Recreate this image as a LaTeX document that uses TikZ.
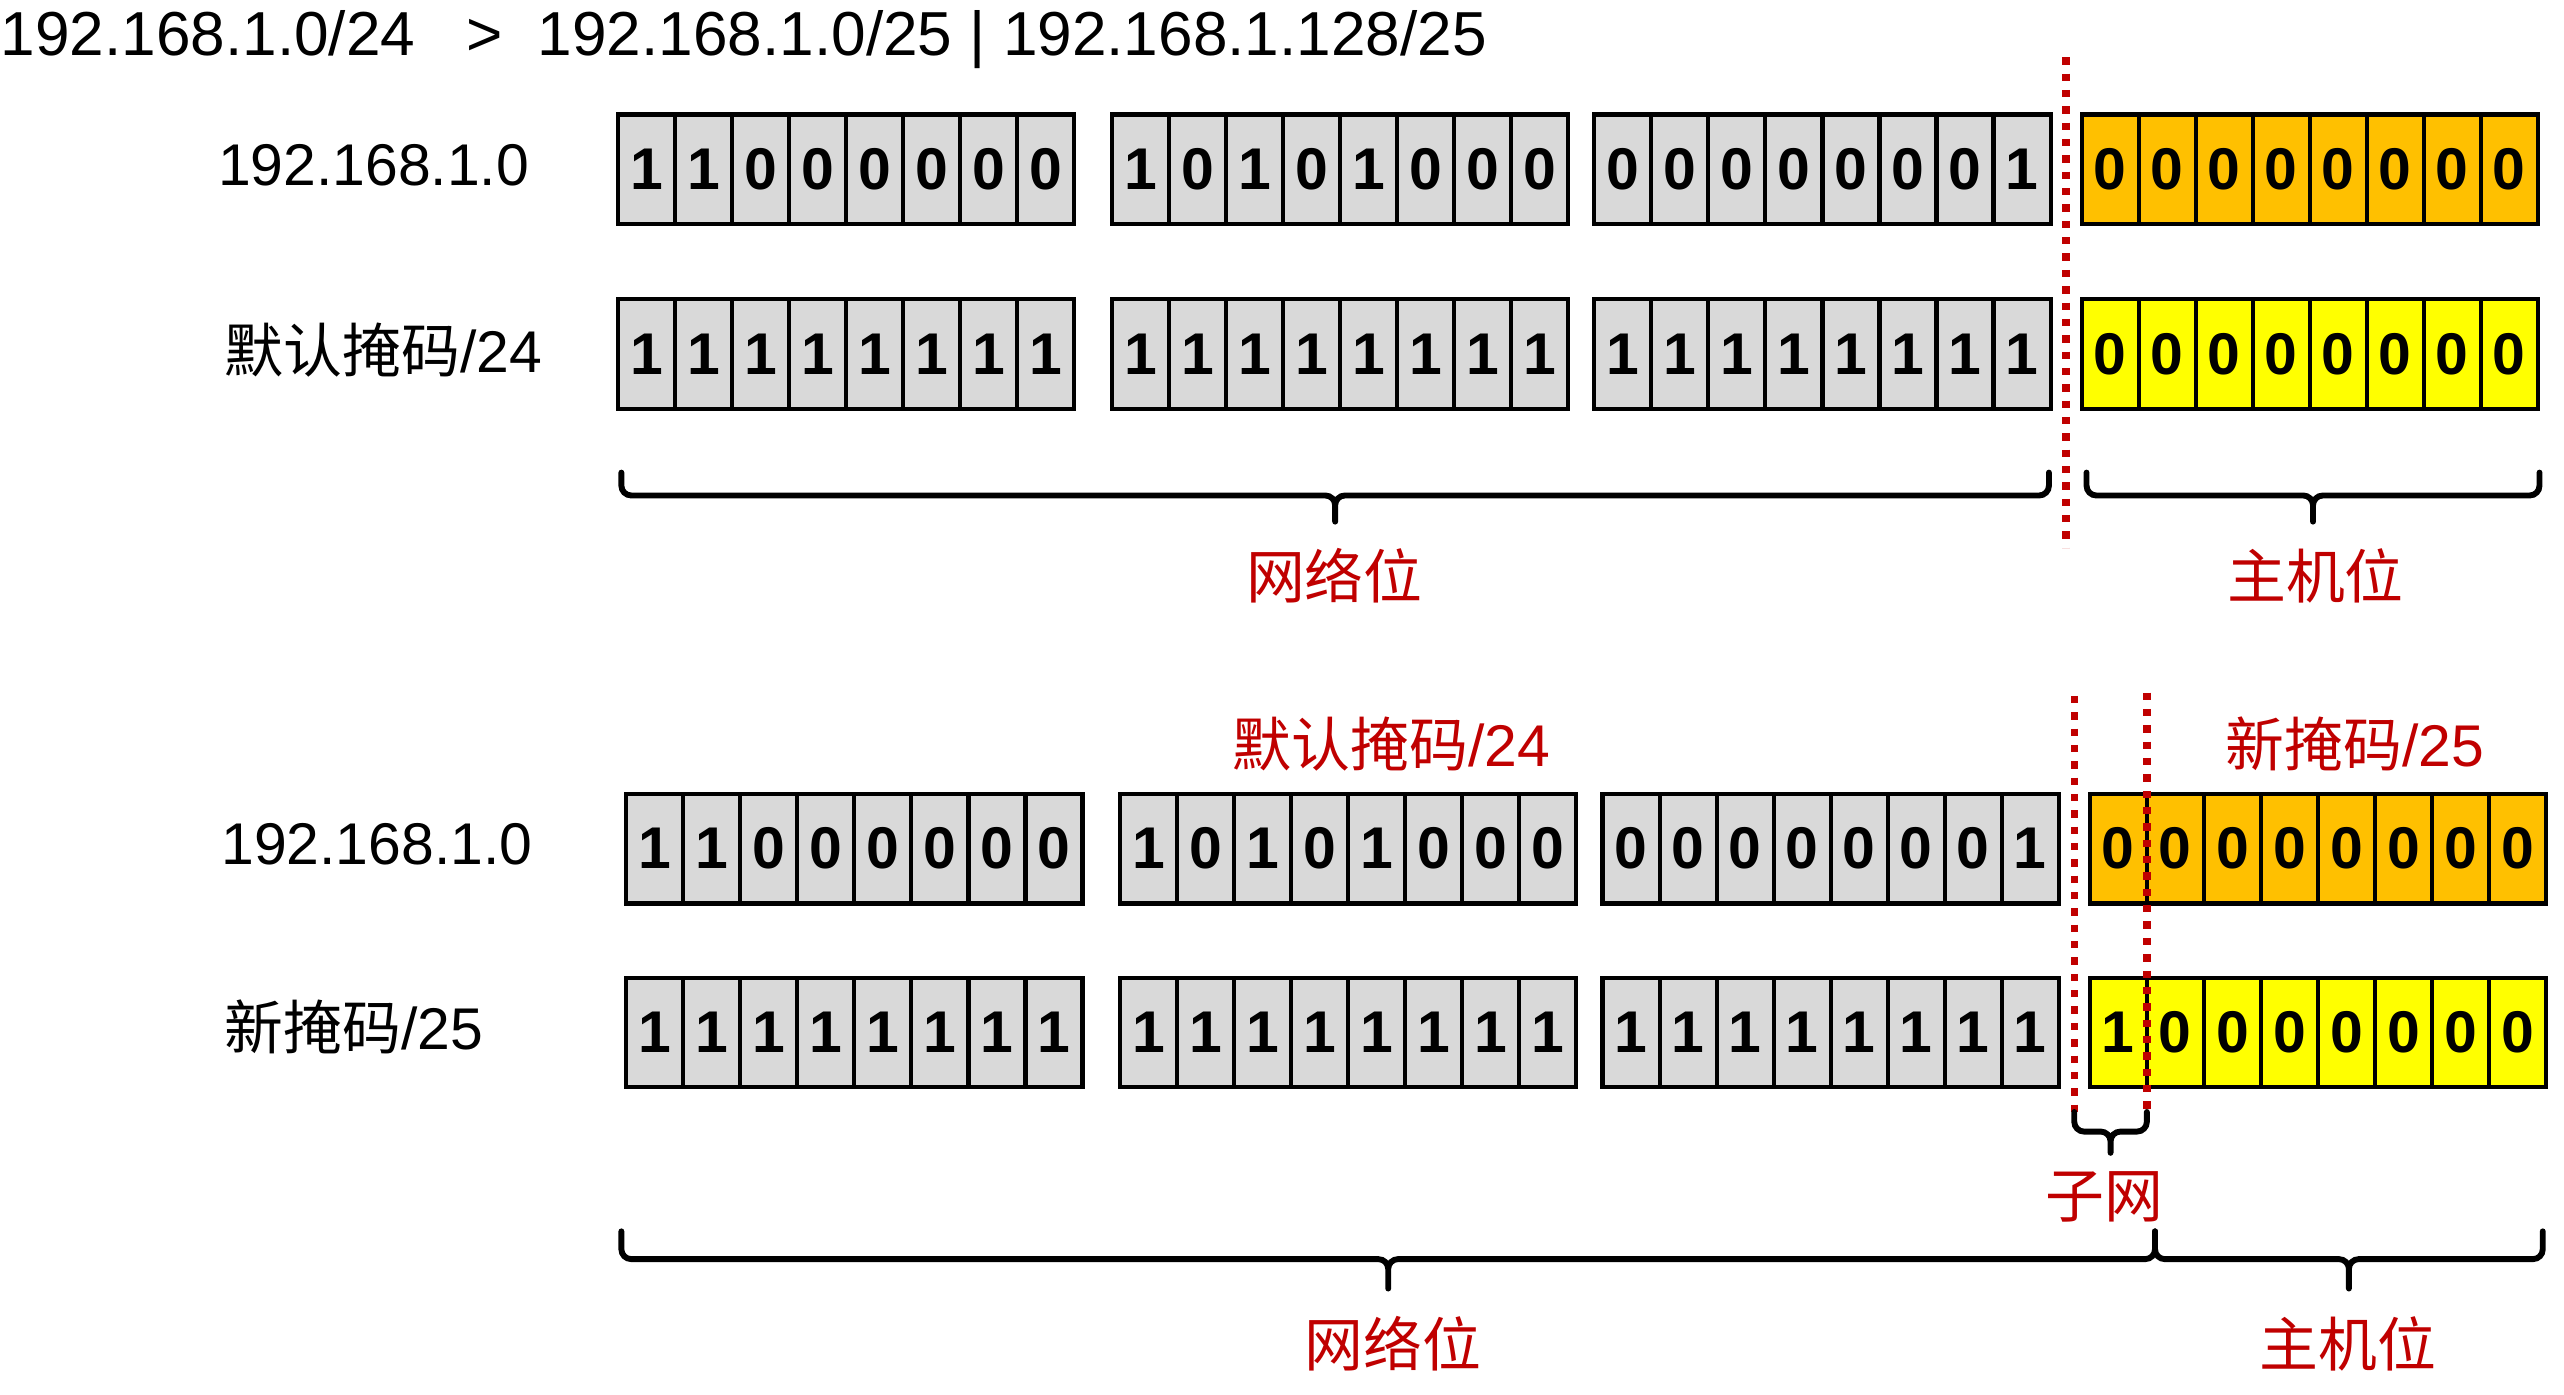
\documentclass[tikz,border=0pt]{standalone}
\usepackage{fontspec}
\setmainfont{Liberation Sans}
\newfontfamily\cjk{Noto Sans CJK SC}
\usetikzlibrary{positioning, calc}
\definecolor{bitgray}{RGB}{217,217,217}
\definecolor{hostorange}{RGB}{255,192,0}
\definecolor{hostyellow}{RGB}{255,255,0}
\definecolor{cutred}{RGB}{192,0,0}

\begin{document}
\begin{tikzpicture}[
      x=0.5pt, y=-0.5pt,
      bit/.style={rectangle, draw, line width=1.25pt, minimum width=17.44pt,
        minimum height=33.5pt, inner sep=0pt, outer sep=0pt,
        font=\fontsize{18}{20}\selectfont\bfseries},
      rowlabel/.style={anchor=west, inner sep=0pt, font=\fontsize{18}{20}\selectfont},
      redlabel/.style={inner sep=0pt, text=cutred, font=\fontsize{18}{20}\selectfont},
      cutline/.style={cutred, line width=2.25pt, dash pattern=on 2.25pt off 2.75pt},
      bracket/.style 2 args={line width=1.8pt, line cap=round, rounded corners=3pt,
        to path={let \p1=(\tikztostart), \p2=(\tikztotarget) in
          -- (\x1,\y1-#1) -- ({(\x1+\x2)/2},\y1-#1) -- ({(\x1+\x2)/2},\y1-#1-#2)
          ({(\x1+\x2)/2},\y1-#1-#2) -- ({(\x1+\x2)/2},\y1-#1) -- (\x2,\y1-#1) -- (\x2,\y2)}}
    ]
      \useasboundingbox (0,0) rectangle (1568,853);
      \fill[white] (0,0) rectangle (1568,853);

      % Title
      \node[rowlabel, font=\fontsize{19}{21}\selectfont] (title) at (0,24)
        {192.168.1.0/24\ \ \ >\ \ 192.168.1.0/25 | 192.168.1.128/25};

      % Address and /24 mask
      \foreach \b [count=\i] in {1,1,0,0,0,0,0,0,1,0,1,0,1,0,0,0,0,0,0,0,0,0,0,1,0,0,0,0,0,0,0,0}{
        \pgfmathtruncatemacro\k{(\i-1)/8}
        \pgfmathsetmacro\bx{{0,302,597,895}[\k]}
        \ifnum\k=3 \def\fc{hostorange}\else\def\fc{bitgray}\fi
        \node[bit, fill=\fc] (ipA-\i) at ({378+\bx+(\i-8*\k-0.5)*34.875}, 103.5) {\b};
      }
      \foreach \b [count=\i] in {1,1,1,1,1,1,1,1,1,1,1,1,1,1,1,1,1,1,1,1,1,1,1,1,0,0,0,0,0,0,0,0}{
        \pgfmathtruncatemacro\k{(\i-1)/8}
        \pgfmathsetmacro\bx{{0,302,597,895}[\k]}
        \ifnum\k=3 \def\fc{hostyellow}\else\def\fc{bitgray}\fi
        \node[bit, fill=\fc] (mA-\i) at ({378+\bx+(\i-8*\k-0.5)*34.875}, 216.5) {\b};
      }
      \node[rowlabel] (ipAtxt) at (133,101) {192.168.1.0};
      \node[rowlabel] (mAtxt) at (137,214) {{\cjk 默认掩码}/24};

      % Split line and brackets
      \coordinate (cutAtop) at ($(ipA-24.north east)!.5!(ipA-25.north west)+(0,-35)$);
      \coordinate (cutAbot) at ($(mA-24.south east)!.5!(mA-25.south west)+(0,85)$);
      \draw[cutline] (cutAtop) -- (cutAbot);
      \coordinate (netAl) at ($(mA-1.south west)+(2,39)$);
      \coordinate (netAr) at ($(mA-24.south east)+(-1,39)$);
      \coordinate (hostAl) at ($(mA-25.south west)+(3,39)$);
      \coordinate (hostAr) at ($(mA-32.south east)+(1,39)$);
      \draw[bracket={7pt}{8pt}] (netAl) to (netAr);
      \draw[bracket={7pt}{8pt}] (hostAl) to (hostAr);
      \node[redlabel] (netAtxt) at (816,352) {\cjk 网络位};
      \node[redlabel] (hostAtxt) at (1416,352) {\cjk 主机位};

      % Address and /25 mask
      \foreach \b [count=\i] in {1,1,0,0,0,0,0,0,1,0,1,0,1,0,0,0,0,0,0,0,0,0,0,1,0,0,0,0,0,0,0,0}{
        \pgfmathtruncatemacro\k{(\i-1)/8}
        \pgfmathsetmacro\bx{{0,302,597,895}[\k]}
        \ifnum\k=3 \def\fc{hostorange}\else\def\fc{bitgray}\fi
        \node[bit, fill=\fc] (ipB-\i) at ({383+\bx+(\i-8*\k-0.5)*34.875}, 519) {\b};
      }
      \foreach \b [count=\i] in {1,1,1,1,1,1,1,1,1,1,1,1,1,1,1,1,1,1,1,1,1,1,1,1,1,0,0,0,0,0,0,0}{
        \pgfmathtruncatemacro\k{(\i-1)/8}
        \pgfmathsetmacro\bx{{0,302,597,895}[\k]}
        \ifnum\k=3 \def\fc{hostyellow}\else\def\fc{bitgray}\fi
        \node[bit, fill=\fc] (mB-\i) at ({383+\bx+(\i-8*\k-0.5)*34.875}, 631.5) {\b};
      }
      \node[rowlabel] (ipBtxt) at (135,516) {192.168.1.0};
      \node[rowlabel] (mBtxt) at (137,628) {{\cjk 新掩码}/25};
      \node[redlabel] (oldmask) at (851,455) {{\cjk 默认掩码}/24};
      \node[redlabel] (newmask) at (1440,455) {{\cjk 新掩码}/25};

      % Subnet bit
      \coordinate (cutBtop) at ($(ipB-24.north east)!.5!(ipB-25.north west)+(0,-60)$);
      \coordinate (cutBbot) at ($(mB-24.south east)!.5!(mB-25.south west)+(0,15)$);
      \coordinate (cutCtop) at ($(ipB-25.north east)+(0,-62)$);
      \coordinate (cutCbot) at ($(mB-25.south east)+(0,15)$);
      \draw[cutline] (cutBtop) -- (cutBbot);
      \draw[cutline] (cutCtop) -- (cutCbot);
      \draw[bracket={6pt}{6.5pt}] (cutBbot) to (cutCbot);
      \node[redlabel] (subtxt) at (1287,732) {\cjk 子网};

      \coordinate (netBl) at ($(mB-1.south west)+(-3,88)$);
      \coordinate (netBr) at ($(mB-25.south east)+(5,88)$);
      \coordinate (hostBr) at ($(mB-32.south east)+(-2,88)$);
      \draw[bracket={8.5pt}{9pt}] (netBl) to (netBr);
      \draw[bracket={8.5pt}{9pt}] (netBr) to (hostBr);
      \node[redlabel] (netBtxt) at (852,822) {\cjk 网络位};
      \node[redlabel] (hostBtxt) at (1436,822) {\cjk 主机位};
    \end{tikzpicture}
\end{document}
